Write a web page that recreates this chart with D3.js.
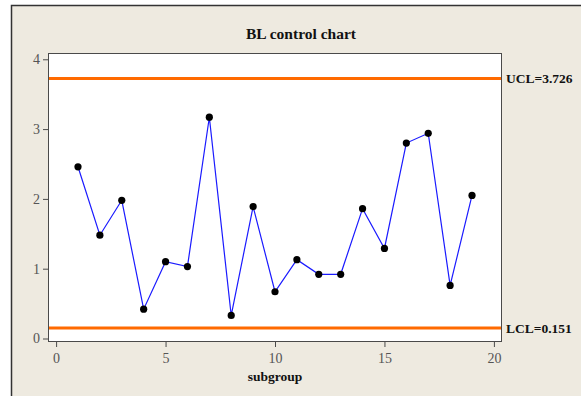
<!DOCTYPE html>
<html>
<head>
<meta charset="utf-8">
<script src="https://cdn.jsdelivr.net/npm/d3@7"></script>
<style>
  html, body { margin: 0; padding: 0; background: #ffffff; }
  svg { display: block; }
</style>
</head>
<body>
<svg id="chart" width="581" height="396"></svg>
<script>
// BL statistic per subgroup
const subgroups = [1, 2, 3, 4, 5, 6, 7, 8, 9, 10, 11, 12, 13, 14, 15, 16, 17, 18, 19];
const blValues = [2.46, 1.48, 1.98, 0.42, 1.10, 1.03, 3.17, 0.33, 1.89, 0.67,
                  1.13, 0.92, 0.92, 1.86, 1.29, 2.80, 2.94, 0.76, 2.05];
// Control limits
const limitNames = ["UCL", "LCL"];
const limitValues = [3.726, 0.151];
// Axis ticks
const xTicks = [0, 5, 10, 15, 20];
const yTicks = [0, 1, 2, 3, 4];

const svg = d3.select("#chart");
const serif = "'Liberation Serif', 'DejaVu Serif', serif";

// Outer panel
svg.append("rect")
  .attr("x", 11.5).attr("y", 5.5)
  .attr("width", 600).attr("height", 420)
  .attr("fill", "#eeeae0")
  .attr("stroke", "#333333").attr("stroke-width", 1.5);

const plot = { left: 48, top: 53, right: 502, bottom: 342 };

const x = d3.scaleLinear().domain([-0.37, 20.37]).range([plot.left, plot.right]);
const y = d3.scaleLinear().domain([-0.05, 4.09]).range([plot.bottom, plot.top]);

// Plot area
svg.append("rect")
  .attr("x", plot.left).attr("y", plot.top)
  .attr("width", plot.right - plot.left).attr("height", plot.bottom - plot.top)
  .attr("fill", "#ffffff");

// Control limit lines
svg.append("g").selectAll("line")
  .data(limitValues)
  .join("line")
  .attr("x1", plot.left).attr("x2", plot.right)
  .attr("y1", d => y(d)).attr("y2", d => y(d))
  .attr("stroke", "#ff6a00").attr("stroke-width", 3);

// Series line
const pts = subgroups.map((s, i) => [s, blValues[i]]);
svg.append("path")
  .datum(pts)
  .attr("fill", "none")
  .attr("stroke", "#1a1aff")
  .attr("stroke-width", 1.2)
  .attr("d", d3.line().x(d => x(d[0])).y(d => y(d[1])));

// Points
svg.append("g").selectAll("circle")
  .data(pts)
  .join("circle")
  .attr("cx", d => x(d[0])).attr("cy", d => y(d[1]))
  .attr("r", 3.6)
  .attr("fill", "#000000");

// Plot frame
svg.append("rect")
  .attr("x", plot.left + 0.5).attr("y", plot.top + 0.5)
  .attr("width", plot.right - plot.left - 1).attr("height", plot.bottom - plot.top - 1)
  .attr("fill", "none")
  .attr("stroke", "#4a4a4a").attr("stroke-width", 1);

// Axes
const xAxis = svg.append("g")
  .attr("transform", `translate(0,${plot.bottom})`)
  .call(d3.axisBottom(x).tickValues(xTicks).tickSize(5).tickPadding(6).tickFormat(d3.format("d")));
const yAxis = svg.append("g")
  .attr("transform", `translate(${plot.left},0)`)
  .call(d3.axisLeft(y).tickValues(yTicks).tickSize(5).tickPadding(3).tickFormat(d3.format("d")));

[xAxis, yAxis].forEach(g => {
  g.select(".domain").remove();
  g.selectAll(".tick line").attr("stroke", "#4a4a4a");
  g.selectAll(".tick text")
    .attr("fill", "#555555")
    .style("font-family", serif)
    .style("font-size", "14px");
});

// Title
svg.append("text")
  .attr("x", 301).attr("y", 39)
  .attr("text-anchor", "middle")
  .style("font-family", serif)
  .style("font-weight", "bold")
  .style("font-size", "15.5px")
  .attr("fill", "#111111")
  .text("BL control chart");

// X axis title
svg.append("text")
  .attr("x", (plot.left + plot.right) / 2).attr("y", 381)
  .attr("text-anchor", "middle")
  .style("font-family", serif)
  .style("font-weight", "bold")
  .style("font-size", "13.5px")
  .attr("fill", "#111111")
  .text("subgroup");

// Limit labels
svg.append("g").selectAll("text")
  .data(limitValues)
  .join("text")
  .attr("x", 506).attr("y", d => y(d))
  .attr("dy", "0.35em")
  .style("font-family", serif)
  .style("font-weight", "bold")
  .style("font-size", "13.5px")
  .attr("fill", "#111111")
  .text((d, i) => `${limitNames[i]}=${d}`);
</script>
</body>
</html>
